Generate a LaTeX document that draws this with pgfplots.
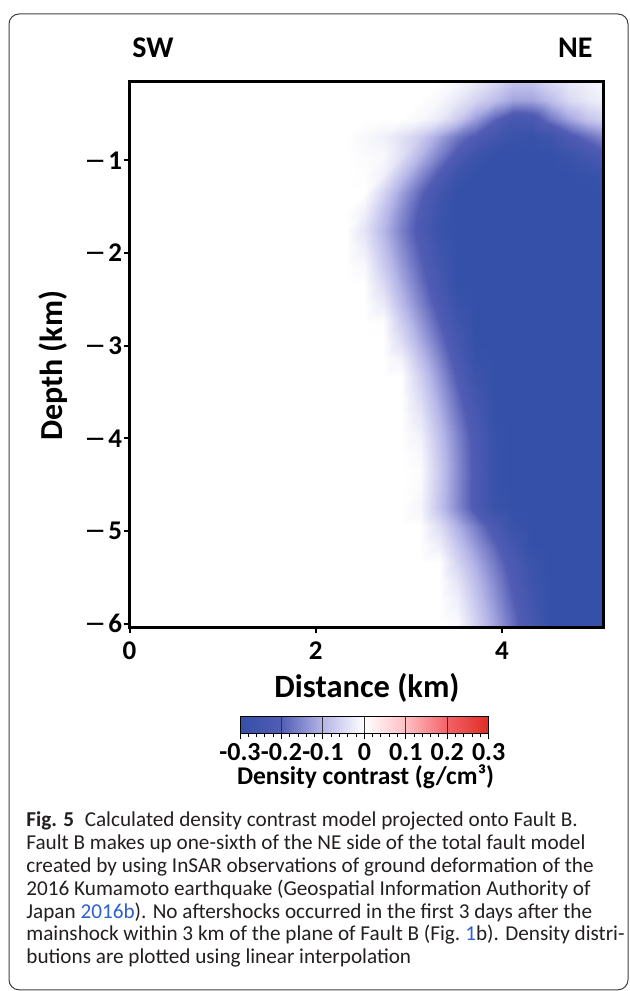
\documentclass[border=0pt]{standalone}
\usepackage{fontspec}
\setmainfont{Carlito}
\newfontfamily\dvs{DejaVu Sans}
\usepackage{pgfplots}
\pgfplotsset{compat=1.18}
\definecolor{linkblue}{RGB}{44,94,214}
\definecolor{captext}{RGB}{35,31,32}
\newcommand\mn{{\dvs\mdseries\fontsize{13pt}{15pt}\selectfont −}\kern0.08em}
\pgfplotsset{colormap={densbwr}{rgb255(0cm)=(52,80,168) rgb255(1cm)=(82,92,180) rgb255(2cm)=(182,182,232) rgb255(3cm)=(255,255,255) rgb255(4cm)=(255,190,195) rgb255(5cm)=(244,98,105) rgb255(6cm)=(221,44,34)}}
\begin{document}
\begin{tikzpicture}
\useasboundingbox (0,0) rectangle (314.5pt,495.5pt);
\draw[line width=0.5pt, black!75, rounded corners=5pt] (4.5pt,0.6pt) rectangle (314pt,488.5pt);
\begin{axis}[
  at={(64.75pt,181.85pt)}, anchor=south west,
  scale only axis, width=237pt, height=272.9pt,
  xmin=0, xmax=5.09, ymin=-6.04, ymax=-0.15,
  axis on top,
  colormap name=densbwr, point meta min=-0.3, point meta max=0.3,
  xtick={0,2,4}, xticklabels={0,2,4},
  ytick={-6,-5,-4,-3,-2,-1}, yticklabels={\mn6,\mn5,\mn4,\mn3,\mn2,\mn1},
  tick align=outside, xtick pos=left, ytick pos=left,
  major tick length=3pt,
  tick style={black, line width=1pt},
  axis line style={line width=1.4pt},
  ticklabel style={font=\fontsize{13.5pt}{15pt}\selectfont\bfseries, inner sep=0pt},
  xticklabel style={yshift=-4pt},
  yticklabel style={xshift=-0.5pt},
]
\addplot[surf, shader=interp, mesh/cols=17, point meta=explicit] coordinates {
(0,-0.15) [0] (2.12,-0.15) [0] (2.32,-0.15) [0] (2.52,-0.15) [0] (2.72,-0.15) [0] (2.92,-0.15) [0] (3.12,-0.15) [0] (3.32,-0.15) [0] (3.52,-0.15) [-0.01] (3.72,-0.15) [-0.03] (3.92,-0.15) [-0.05] (4.12,-0.15) [-0.08] (4.32,-0.15) [-0.08] (4.52,-0.15) [-0.05] (4.72,-0.15) [-0.03] (4.92,-0.15) [-0.02] (5.09,-0.15) [-0.01]
(0,-0.35) [0] (2.12,-0.35) [0] (2.32,-0.35) [0] (2.52,-0.35) [0] (2.72,-0.35) [0] (2.92,-0.35) [0] (3.12,-0.35) [0] (3.32,-0.35) [-0.01] (3.52,-0.35) [-0.03] (3.72,-0.35) [-0.06] (3.92,-0.35) [-0.09] (4.12,-0.35) [-0.12] (4.32,-0.35) [-0.12] (4.52,-0.35) [-0.09] (4.72,-0.35) [-0.05] (4.92,-0.35) [-0.03] (5.09,-0.35) [-0.02]
(0,-0.55) [0] (2.12,-0.55) [0] (2.32,-0.55) [0] (2.52,-0.55) [0] (2.72,-0.55) [0] (2.92,-0.55) [0] (3.12,-0.55) [-0.01] (3.32,-0.55) [-0.03] (3.52,-0.55) [-0.07] (3.72,-0.55) [-0.13] (3.92,-0.55) [-0.19] (4.12,-0.55) [-0.24] (4.32,-0.55) [-0.23] (4.52,-0.55) [-0.17] (4.72,-0.55) [-0.12] (4.92,-0.55) [-0.08] (5.09,-0.55) [-0.06]
(0,-0.75) [0] (2.12,-0.75) [0] (2.32,-0.75) [0] (2.52,-0.75) [-0.01] (2.72,-0.75) [-0.02] (2.92,-0.75) [-0.04] (3.12,-0.75) [-0.07] (3.32,-0.75) [-0.12] (3.52,-0.75) [-0.17] (3.72,-0.75) [-0.21] (3.92,-0.75) [-0.25] (4.12,-0.75) [-0.28] (4.32,-0.75) [-0.29] (4.52,-0.75) [-0.27] (4.72,-0.75) [-0.22] (4.92,-0.75) [-0.18] (5.09,-0.75) [-0.15]
(0,-0.95) [0] (2.12,-0.95) [0] (2.32,-0.95) [0] (2.52,-0.95) [-0.005] (2.72,-0.95) [-0.01] (2.92,-0.95) [-0.043] (3.12,-0.95) [-0.101] (3.32,-0.95) [-0.159] (3.52,-0.95) [-0.216] (3.72,-0.95) [-0.274] (3.92,-0.95) [-0.3] (4.12,-0.95) [-0.3] (4.32,-0.95) [-0.3] (4.52,-0.95) [-0.3] (4.72,-0.95) [-0.28] (4.92,-0.95) [-0.25] (5.09,-0.95) [-0.22]
(0,-1.15) [0] (2.12,-1.15) [0] (2.32,-1.15) [0] (2.52,-1.15) [-0.003] (2.72,-1.15) [-0.019] (2.92,-1.15) [-0.081] (3.12,-1.15) [-0.144] (3.32,-1.15) [-0.206] (3.52,-1.15) [-0.269] (3.72,-1.15) [-0.3] (3.92,-1.15) [-0.3] (4.12,-1.15) [-0.3] (4.32,-1.15) [-0.3] (4.52,-1.15) [-0.3] (4.72,-1.15) [-0.3] (4.92,-1.15) [-0.29] (5.09,-1.15) [-0.28]
(0,-1.35) [0] (2.12,-1.35) [0] (2.32,-1.35) [0] (2.52,-1.35) [0] (2.72,-1.35) [-0.058] (2.92,-1.35) [-0.123] (3.12,-1.35) [-0.187] (3.32,-1.35) [-0.252] (3.52,-1.35) [-0.3] (3.72,-1.35) [-0.3] (3.92,-1.35) [-0.3] (4.12,-1.35) [-0.3] (4.32,-1.35) [-0.3] (4.52,-1.35) [-0.3] (4.72,-1.35) [-0.3] (4.92,-1.35) [-0.3] (5.09,-1.35) [-0.3]
(0,-1.55) [0] (2.12,-1.55) [0] (2.32,-1.55) [0] (2.52,-1.55) [-0.019] (2.72,-1.55) [-0.081] (2.92,-1.55) [-0.144] (3.12,-1.55) [-0.206] (3.32,-1.55) [-0.269] (3.52,-1.55) [-0.3] (3.72,-1.55) [-0.3] (3.92,-1.55) [-0.3] (4.12,-1.55) [-0.3] (4.32,-1.55) [-0.3] (4.52,-1.55) [-0.3] (4.72,-1.55) [-0.3] (4.92,-1.55) [-0.3] (5.09,-1.55) [-0.3]
(0,-1.75) [0] (2.12,-1.75) [0] (2.32,-1.75) [0] (2.52,-1.75) [-0.036] (2.72,-1.75) [-0.097] (2.92,-1.75) [-0.158] (3.12,-1.75) [-0.218] (3.32,-1.75) [-0.279] (3.52,-1.75) [-0.3] (3.72,-1.75) [-0.3] (3.92,-1.75) [-0.3] (4.12,-1.75) [-0.3] (4.32,-1.75) [-0.3] (4.52,-1.75) [-0.3] (4.72,-1.75) [-0.3] (4.92,-1.75) [-0.3] (5.09,-1.75) [-0.3]
(0,-1.95) [0] (2.12,-1.95) [0] (2.32,-1.95) [0] (2.52,-1.95) [-0.024] (2.72,-1.95) [-0.084] (2.92,-1.95) [-0.144] (3.12,-1.95) [-0.204] (3.32,-1.95) [-0.264] (3.52,-1.95) [-0.3] (3.72,-1.95) [-0.3] (3.92,-1.95) [-0.3] (4.12,-1.95) [-0.3] (4.32,-1.95) [-0.3] (4.52,-1.95) [-0.3] (4.72,-1.95) [-0.3] (4.92,-1.95) [-0.3] (5.09,-1.95) [-0.3]
(0,-2.15) [0] (2.12,-2.15) [0] (2.32,-2.15) [0] (2.52,-2.15) [-0.009] (2.72,-2.15) [-0.069] (2.92,-2.15) [-0.129] (3.12,-2.15) [-0.189] (3.32,-2.15) [-0.249] (3.52,-2.15) [-0.3] (3.72,-2.15) [-0.3] (3.92,-2.15) [-0.3] (4.12,-2.15) [-0.3] (4.32,-2.15) [-0.3] (4.52,-2.15) [-0.3] (4.72,-2.15) [-0.3] (4.92,-2.15) [-0.3] (5.09,-2.15) [-0.3]
(0,-2.35) [0] (2.12,-2.35) [0] (2.32,-2.35) [0] (2.52,-2.35) [0] (2.72,-2.35) [-0.049] (2.92,-2.35) [-0.111] (3.12,-2.35) [-0.173] (3.32,-2.35) [-0.235] (3.52,-2.35) [-0.297] (3.72,-2.35) [-0.3] (3.92,-2.35) [-0.3] (4.12,-2.35) [-0.3] (4.32,-2.35) [-0.3] (4.52,-2.35) [-0.3] (4.72,-2.35) [-0.3] (4.92,-2.35) [-0.3] (5.09,-2.35) [-0.3]
(0,-2.55) [0] (2.12,-2.55) [0] (2.32,-2.55) [0] (2.52,-2.55) [0] (2.72,-2.55) [-0.028] (2.92,-2.55) [-0.092] (3.12,-2.55) [-0.155] (3.32,-2.55) [-0.218] (3.52,-2.55) [-0.281] (3.72,-2.55) [-0.3] (3.92,-2.55) [-0.3] (4.12,-2.55) [-0.3] (4.32,-2.55) [-0.3] (4.52,-2.55) [-0.3] (4.72,-2.55) [-0.3] (4.92,-2.55) [-0.3] (5.09,-2.55) [-0.3]
(0,-2.75) [0] (2.12,-2.75) [0] (2.32,-2.75) [0] (2.52,-2.75) [0] (2.72,-2.75) [-0.003] (2.92,-2.75) [-0.068] (3.12,-2.75) [-0.132] (3.32,-2.75) [-0.197] (3.52,-2.75) [-0.261] (3.72,-2.75) [-0.3] (3.92,-2.75) [-0.3] (4.12,-2.75) [-0.3] (4.32,-2.75) [-0.3] (4.52,-2.75) [-0.3] (4.72,-2.75) [-0.3] (4.92,-2.75) [-0.3] (5.09,-2.75) [-0.3]
(0,-2.95) [0] (2.12,-2.95) [0] (2.32,-2.95) [0] (2.52,-2.95) [0] (2.72,-2.95) [0] (2.92,-2.95) [-0.046] (3.12,-2.95) [-0.111] (3.32,-2.95) [-0.176] (3.52,-2.95) [-0.241] (3.72,-2.95) [-0.3] (3.92,-2.95) [-0.3] (4.12,-2.95) [-0.3] (4.32,-2.95) [-0.3] (4.52,-2.95) [-0.3] (4.72,-2.95) [-0.3] (4.92,-2.95) [-0.3] (5.09,-2.95) [-0.3]
(0,-3.15) [0] (2.12,-3.15) [0] (2.32,-3.15) [0] (2.52,-3.15) [0] (2.72,-3.15) [0] (2.92,-3.15) [-0.017] (3.12,-3.15) [-0.085] (3.32,-3.15) [-0.153] (3.52,-3.15) [-0.222] (3.72,-3.15) [-0.29] (3.92,-3.15) [-0.3] (4.12,-3.15) [-0.3] (4.32,-3.15) [-0.3] (4.52,-3.15) [-0.3] (4.72,-3.15) [-0.3] (4.92,-3.15) [-0.3] (5.09,-3.15) [-0.3]
(0,-3.35) [0] (2.12,-3.35) [0] (2.32,-3.35) [0] (2.52,-3.35) [0] (2.72,-3.35) [0] (2.92,-3.35) [0] (3.12,-3.35) [-0.063] (3.32,-3.35) [-0.133] (3.52,-3.35) [-0.202] (3.72,-3.35) [-0.272] (3.92,-3.35) [-0.3] (4.12,-3.35) [-0.3] (4.32,-3.35) [-0.3] (4.52,-3.35) [-0.3] (4.72,-3.35) [-0.3] (4.92,-3.35) [-0.3] (5.09,-3.35) [-0.3]
(0,-3.55) [0] (2.12,-3.55) [0] (2.32,-3.55) [0] (2.52,-3.55) [0] (2.72,-3.55) [0] (2.92,-3.55) [0] (3.12,-3.55) [-0.048] (3.32,-3.55) [-0.116] (3.52,-3.55) [-0.184] (3.72,-3.55) [-0.252] (3.92,-3.55) [-0.3] (4.12,-3.55) [-0.3] (4.32,-3.55) [-0.3] (4.52,-3.55) [-0.3] (4.72,-3.55) [-0.3] (4.92,-3.55) [-0.3] (5.09,-3.55) [-0.3]
(0,-3.75) [0] (2.12,-3.75) [0] (2.32,-3.75) [0] (2.52,-3.75) [0] (2.72,-3.75) [0] (2.92,-3.75) [0] (3.12,-3.75) [-0.034] (3.32,-3.75) [-0.101] (3.52,-3.75) [-0.169] (3.72,-3.75) [-0.236] (3.92,-3.75) [-0.3] (4.12,-3.75) [-0.3] (4.32,-3.75) [-0.3] (4.52,-3.75) [-0.3] (4.72,-3.75) [-0.3] (4.92,-3.75) [-0.3] (5.09,-3.75) [-0.3]
(0,-3.95) [0] (2.12,-3.95) [0] (2.32,-3.95) [0] (2.52,-3.95) [0] (2.72,-3.95) [0] (2.92,-3.95) [0] (3.12,-3.95) [-0.02] (3.32,-3.95) [-0.088] (3.52,-3.95) [-0.155] (3.72,-3.95) [-0.222] (3.92,-3.95) [-0.29] (4.12,-3.95) [-0.3] (4.32,-3.95) [-0.3] (4.52,-3.95) [-0.3] (4.72,-3.95) [-0.3] (4.92,-3.95) [-0.3] (5.09,-3.95) [-0.3]
(0,-4.15) [0] (2.12,-4.15) [0] (2.32,-4.15) [0] (2.52,-4.15) [0] (2.72,-4.15) [0] (2.92,-4.15) [0] (3.12,-4.15) [-0.01] (3.32,-4.15) [-0.079] (3.52,-4.15) [-0.148] (3.72,-4.15) [-0.217] (3.92,-4.15) [-0.286] (4.12,-4.15) [-0.3] (4.32,-4.15) [-0.3] (4.52,-4.15) [-0.3] (4.72,-4.15) [-0.3] (4.92,-4.15) [-0.3] (5.09,-4.15) [-0.3]
(0,-4.35) [0] (2.12,-4.35) [0] (2.32,-4.35) [0] (2.52,-4.35) [0] (2.72,-4.35) [0] (2.92,-4.35) [0] (3.12,-4.35) [-0.004] (3.32,-4.35) [-0.074] (3.52,-4.35) [-0.145] (3.72,-4.35) [-0.215] (3.92,-4.35) [-0.286] (4.12,-4.35) [-0.3] (4.32,-4.35) [-0.3] (4.52,-4.35) [-0.3] (4.72,-4.35) [-0.3] (4.92,-4.35) [-0.3] (5.09,-4.35) [-0.3]
(0,-4.55) [0] (2.12,-4.55) [0] (2.32,-4.55) [0] (2.52,-4.55) [0] (2.72,-4.55) [0] (2.92,-4.55) [0] (3.12,-4.55) [-0.007] (3.32,-4.55) [-0.077] (3.52,-4.55) [-0.147] (3.72,-4.55) [-0.216] (3.92,-4.55) [-0.286] (4.12,-4.55) [-0.3] (4.32,-4.55) [-0.3] (4.52,-4.55) [-0.3] (4.72,-4.55) [-0.3] (4.92,-4.55) [-0.3] (5.09,-4.55) [-0.3]
(0,-4.75) [0] (2.12,-4.75) [0] (2.32,-4.75) [0] (2.52,-4.75) [0] (2.72,-4.75) [0] (2.92,-4.75) [0] (3.12,-4.75) [-0.013] (3.32,-4.75) [-0.081] (3.52,-4.75) [-0.148] (3.72,-4.75) [-0.216] (3.92,-4.75) [-0.283] (4.12,-4.75) [-0.3] (4.32,-4.75) [-0.3] (4.52,-4.75) [-0.3] (4.72,-4.75) [-0.3] (4.92,-4.75) [-0.3] (5.09,-4.75) [-0.3]
(0,-4.95) [0] (2.12,-4.95) [0] (2.32,-4.95) [0] (2.52,-4.95) [0] (2.72,-4.95) [0] (2.92,-4.95) [0] (3.12,-4.95) [0] (3.32,-4.95) [-0.045] (3.52,-4.95) [-0.105] (3.72,-4.95) [-0.165] (3.92,-4.95) [-0.225] (4.12,-4.95) [-0.285] (4.32,-4.95) [-0.3] (4.52,-4.95) [-0.3] (4.72,-4.95) [-0.3] (4.92,-4.95) [-0.3] (5.09,-4.95) [-0.3]
(0,-5.15) [0] (2.12,-5.15) [0] (2.32,-5.15) [0] (2.52,-5.15) [0] (2.72,-5.15) [0] (2.92,-5.15) [0] (3.12,-5.15) [0] (3.32,-5.15) [-0.023] (3.52,-5.15) [-0.079] (3.72,-5.15) [-0.136] (3.92,-5.15) [-0.192] (4.12,-5.15) [-0.249] (4.32,-5.15) [-0.3] (4.52,-5.15) [-0.3] (4.72,-5.15) [-0.3] (4.92,-5.15) [-0.3] (5.09,-5.15) [-0.3]
(0,-5.35) [0] (2.12,-5.35) [0] (2.32,-5.35) [0] (2.52,-5.35) [0] (2.72,-5.35) [0] (2.92,-5.35) [0] (3.12,-5.35) [0] (3.32,-5.35) [0] (3.52,-5.35) [-0.056] (3.72,-5.35) [-0.112] (3.92,-5.35) [-0.168] (4.12,-5.35) [-0.224] (4.32,-5.35) [-0.28] (4.52,-5.35) [-0.3] (4.72,-5.35) [-0.3] (4.92,-5.35) [-0.3] (5.09,-5.35) [-0.3]
(0,-5.55) [0] (2.12,-5.55) [0] (2.32,-5.55) [0] (2.52,-5.55) [0] (2.72,-5.55) [0] (2.92,-5.55) [0] (3.12,-5.55) [0] (3.32,-5.55) [0] (3.52,-5.55) [-0.035] (3.72,-5.55) [-0.093] (3.92,-5.55) [-0.151] (4.12,-5.55) [-0.21] (4.32,-5.55) [-0.268] (4.52,-5.55) [-0.3] (4.72,-5.55) [-0.3] (4.92,-5.55) [-0.3] (5.09,-5.55) [-0.3]
(0,-5.75) [0] (2.12,-5.75) [0] (2.32,-5.75) [0] (2.52,-5.75) [0] (2.72,-5.75) [0] (2.92,-5.75) [0] (3.12,-5.75) [0] (3.32,-5.75) [0] (3.52,-5.75) [-0.021] (3.72,-5.75) [-0.079] (3.92,-5.75) [-0.138] (4.12,-5.75) [-0.197] (4.32,-5.75) [-0.256] (4.52,-5.75) [-0.3] (4.72,-5.75) [-0.3] (4.92,-5.75) [-0.3] (5.09,-5.75) [-0.3]
(0,-5.95) [0] (2.12,-5.95) [0] (2.32,-5.95) [0] (2.52,-5.95) [0] (2.72,-5.95) [0] (2.92,-5.95) [0] (3.12,-5.95) [0] (3.32,-5.95) [0] (3.52,-5.95) [-0.009] (3.72,-5.95) [-0.067] (3.92,-5.95) [-0.125] (4.12,-5.95) [-0.183] (4.32,-5.95) [-0.242] (4.52,-5.95) [-0.3] (4.72,-5.95) [-0.3] (4.92,-5.95) [-0.3] (5.09,-5.95) [-0.3]
(0,-6.04) [0] (2.12,-6.04) [0] (2.32,-6.04) [0] (2.52,-6.04) [0] (2.72,-6.04) [0] (2.92,-6.04) [0] (3.12,-6.04) [0] (3.32,-6.04) [0] (3.52,-6.04) [-0.006] (3.72,-6.04) [-0.064] (3.92,-6.04) [-0.122] (4.12,-6.04) [-0.181] (4.32,-6.04) [-0.239] (4.52,-6.04) [-0.297] (4.72,-6.04) [-0.3] (4.92,-6.04) [-0.3] (5.09,-6.04) [-0.3]
};
\end{axis}
\begin{axis}[
  at={(120pt,128.65pt)}, anchor=south west,
  scale only axis, width=124.35pt, height=8.35pt,
  xmin=-0.3, xmax=0.3, ymin=0, ymax=1,
  colormap name=densbwr, point meta min=-0.3, point meta max=0.3,
  axis on top,
  xtick={-0.3,-0.2,-0.1,0,0.1,0.2,0.3},
  xticklabels={-0.3,-0.2,-0.1,0,0.1,0.2,0.3},
  minor x tick num=4, ytick=\empty,
  tick align=outside, xtick pos=left,
  major tick length=2.8pt, minor tick length=1.5pt,
  tick style={black, line width=0.5pt},
  xmajorgrids, grid style={black!80, line width=0.5pt},
  axis line style={line width=0.5pt},
  xticklabel style={font=\fontsize{13pt}{14pt}\selectfont\bfseries, inner sep=0pt, yshift=-2pt},
]
\addplot[surf, shader=interp, mesh/cols=13, point meta=explicit] coordinates {
(-0.3,0) [-0.3] (-0.25,0) [-0.25] (-0.2,0) [-0.2] (-0.15,0) [-0.15] (-0.1,0) [-0.1] (-0.05,0) [-0.05] (0,0) [0] (0.05,0) [0.05] (0.1,0) [0.1] (0.15,0) [0.15] (0.2,0) [0.2] (0.25,0) [0.25] (0.3,0) [0.3]
(-0.3,1) [-0.3] (-0.25,1) [-0.25] (-0.2,1) [-0.2] (-0.15,1) [-0.15] (-0.1,1) [-0.1] (-0.05,1) [-0.05] (0,1) [0] (0.05,1) [0.05] (0.1,1) [0.1] (0.15,1) [0.15] (0.2,1) [0.2] (0.25,1) [0.25] (0.3,1) [0.3]
};
\end{axis}
\node[anchor=base, inner sep=0pt, font=\fontsize{16.25pt}{18pt}\selectfont\bfseries] at (183.5pt,146.5pt) {Distance (km)};
\node[anchor=base, rotate=90, inner sep=0pt, font=\fontsize{16pt}{18pt}\selectfont\bfseries] at (31.35pt,312.6pt) {Depth (km)};
\node[anchor=base west, inner sep=0pt, font=\fontsize{15pt}{17pt}\selectfont\bfseries] at (66pt,466.5pt) {SW};
\node[anchor=base east, inner sep=0pt, font=\fontsize{15pt}{17pt}\selectfont\bfseries] at (296.5pt,466.5pt) {NE};
\node[anchor=base, inner sep=0pt, font=\fontsize{12.75pt}{14pt}\selectfont\bfseries] at (182.75pt,103pt) {Density contrast (g/cm³)};
\begin{scope}[every node/.style={anchor=base west, inner sep=0pt, text=captext, font=\fontsize{10.6pt}{11.4pt}\selectfont}]
\node at (13pt,82pt) {\textbf{Fig. 5}\enspace Calculated density contrast model projected onto Fault B.};
\node at (13pt,70.6pt) {Fault B makes up one-sixth of the NE side of the total fault model};
\node at (13pt,59.2pt) {created by using InSAR observations of ground deformation of the};
\node at (13pt,47.8pt) {2016 Kumamoto earthquake (Geospatial Information Authority of};
\node at (13pt,36.4pt) {Japan {\color{linkblue}2016b}). No aftershocks occurred in the first 3 days after the};
\node at (13pt,25pt) {mainshock within 3 km of the plane of Fault B (Fig.~{\color{linkblue}1}b). Density distri-};
\node at (13pt,13.6pt) {butions are plotted using linear interpolation};
\end{scope}
\end{tikzpicture}
\end{document}
